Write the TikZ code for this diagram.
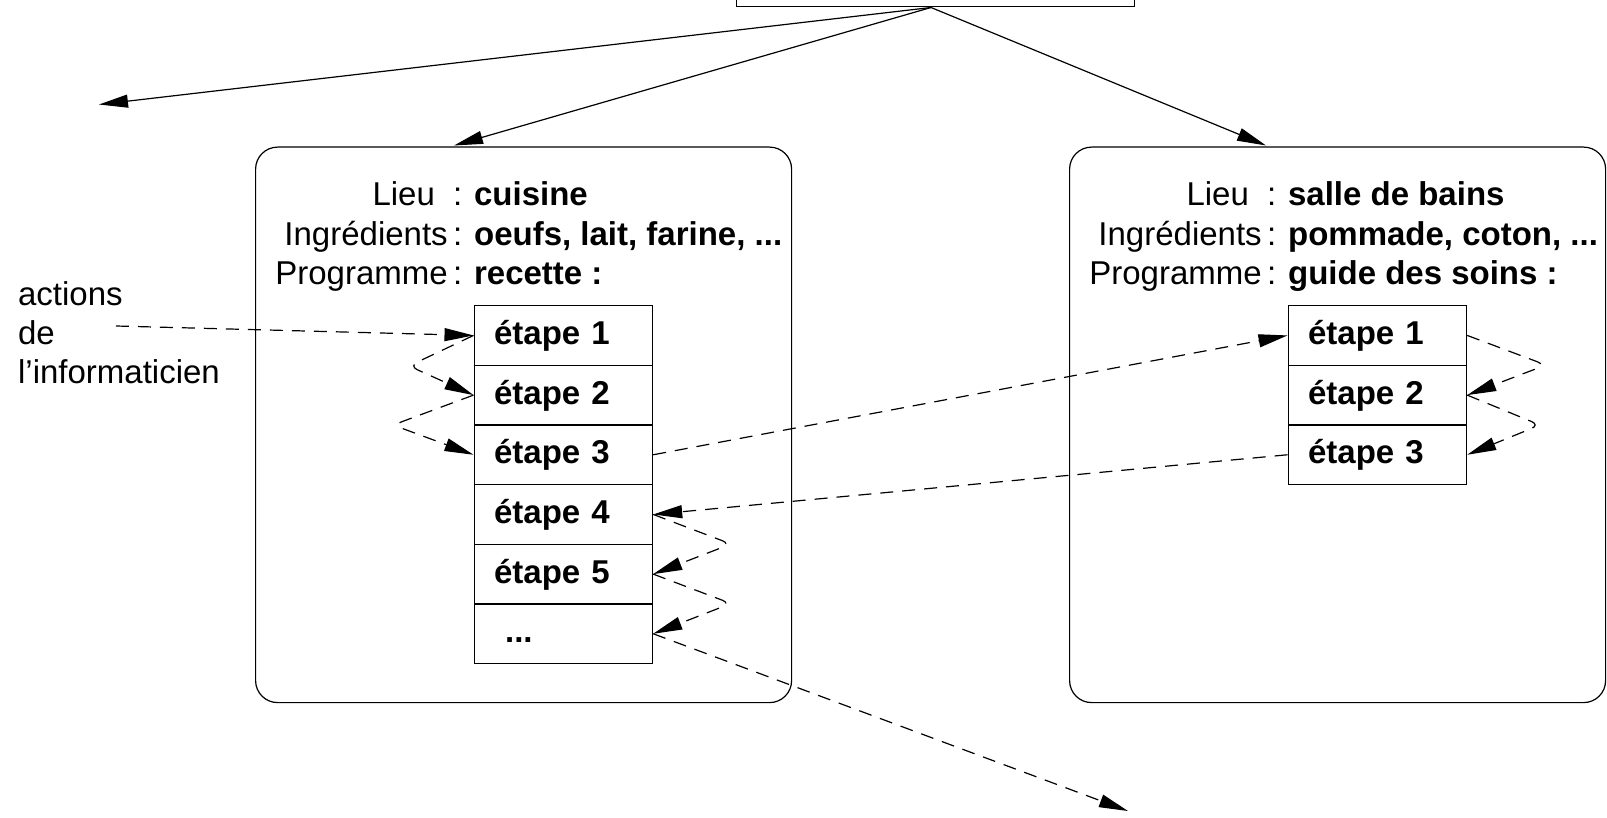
\documentclass[tikz,border=0pt]{standalone}
\usepackage{fontspec}
\setmainfont{Liberation Sans}
\usetikzlibrary{arrows.meta}
\begin{document}
\begin{tikzpicture}[x=1pt,y=-1pt,
  line width=1.2pt,
  font=\fontsize{33}{40}\selectfont,
  tip/.style={-{Triangle[length=29pt,width=13pt]}},
  dashline/.style={dash pattern=on 13pt off 9pt},
  frame/.style={draw, rounded corners=22pt, inner sep=0pt, anchor=north west,
    minimum width=536pt, minimum height=555.5pt},
  stepbox/.style={draw, anchor=north west, inner xsep=20pt, inner ysep=0pt,
    text width=138.5pt, minimum height=59.67pt, text height=18pt, text depth=0pt,
    font=\fontsize{33}{40}\selectfont\bfseries},
  key/.style={anchor=base east, inner sep=0pt},
  val/.style={anchor=base west, inner sep=0pt, font=\fontsize{33}{40}\selectfont\bfseries},
  loop/.style={dashline, tip, rounded corners=9pt}]

\useasboundingbox (0,0) rectangle (1607,818);
\clip (0,0) rectangle (1607,818);

% parent box at the top, and the point the three branches leave from
\node[draw, anchor=south west, minimum width=398pt, minimum height=60pt, inner sep=0pt] (top) at (736,7.5) {};
\coordinate (apex) at (931,7.5);
\coordinate (away) at (99,104.5);

% the two contexts
\node[frame] (kitchen) at (255,146.5) {};
\node[frame] (bath) at (1069,146.5) {};
\coordinate (kitchenin) at (454,145.5);
\coordinate (bathin) at (1266,145.5);

\draw[tip] (apex) -- (away);
\draw[tip] (apex) -- (kitchenin);
\draw[tip] (apex) -- (bathin);

% kitchen context
\node[key] (k1) at (463,205.5) {Lieu\ \ :};
\node[val] (v1) at (473.5,205.5) {cuisine};
\node[key] (k2) at (463,246) {Ingrédients\,:};
\node[val] (v2) at (473.5,246) {oeufs, lait, farine, ...};
\node[key] (k3) at (463,285) {Programme\,:};
\node[val] (v3) at (473.5,285) {recette :};

\node[stepbox] (s1) at (473.5,305) {étape 1};
\node[stepbox] (s2) at (473.5,364.67) {étape 2};
\node[stepbox] (s3) at (473.5,424.33) {étape 3};
\node[stepbox] (s4) at (473.5,484) {étape 4};
\node[stepbox] (s5) at (473.5,543.67) {étape 5};
\node[stepbox] (s6) at (473.5,603.33) {\hspace*{11pt}...};

% bathroom context
\node[key] (b1) at (1277,205.5) {Lieu\ \ :};
\node[val] (w1) at (1287.5,205.5) {salle de bains};
\node[key] (b2) at (1277,246) {Ingrédients\,:};
\node[val] (w2) at (1287.5,246) {pommade, coton, ...};
\node[key] (b3) at (1277,285) {Programme\,:};
\node[val] (w3) at (1287.5,285) {guide des soins :};

\node[stepbox] (r1) at (1287.5,305) {étape 1};
\node[stepbox] (r2) at (1287.5,364.67) {étape 2};
\node[stepbox] (r3) at (1287.5,424.33) {étape 3};

% who triggers the run
\node[anchor=base west, align=left, inner sep=0pt, font=\fontsize{33}{39}\selectfont] (actor) at (17.5,383.5) {actions\\de\\l’informaticien};
\coordinate (actorout) at (116,326);
\draw[dashline, tip] (actorout) -- (s1.west);

% flow of control between the steps
\draw[loop] (s1.west) -- (409,366) -- (s2.west);
\draw[loop] (s2.west) -- (393,425) -- (s3.west);
\draw[dashline, tip] (s3.east) -- (r1.west);
\draw[loop] (r1.east) -- (1546,365) -- (r2.east);
\draw[loop] (r2.east) -- (1540,425) -- (r3.east);
\draw[dashline, tip] (r3.west) -- (s4.east);
\draw[loop] (s4.east) -- (731,544) -- (s5.east);
\draw[loop] (s5.east) -- (731,603.5) -- (s6.east);
\coordinate (onward) at (1128,811);
\draw[dashline, tip] (s6.east) -- (onward);
\end{tikzpicture}
\end{document}
